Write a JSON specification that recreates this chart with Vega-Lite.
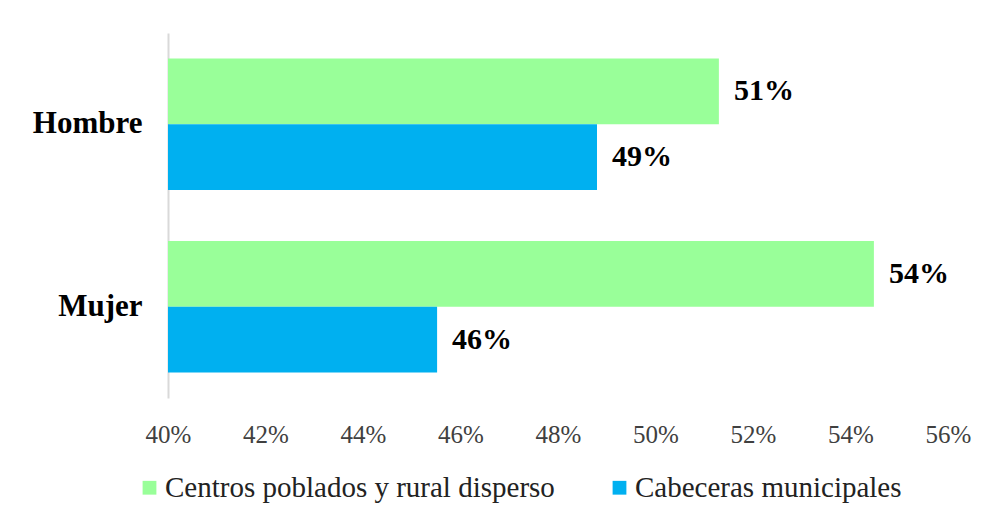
{
  "$schema": "https://vega.github.io/schema/vega-lite/v6.json",
  "width": 780,
  "height": 365,
  "autosize": {"type": "none"},
  "padding": {"left": 168, "top": 33, "right": 44, "bottom": 123},
  "background": "white",
  "config": {
    "view": {"stroke": null},
    "font": "Liberation Serif"
  },
  "data": {
    "values": [
      {"sexo": "Hombre", "zona": "Centros poblados y rural disperso", "valor": 0.513},
      {"sexo": "Hombre", "zona": "Cabeceras municipales", "valor": 0.488},
      {"sexo": "Mujer", "zona": "Centros poblados y rural disperso", "valor": 0.5448},
      {"sexo": "Mujer", "zona": "Cabeceras municipales", "valor": 0.4552}
    ]
  },
  "encoding": {
    "y": {
      "field": "sexo",
      "type": "nominal",
      "sort": ["Hombre", "Mujer"],
      "title": null,
      "scale": {"paddingInner": 0.28, "paddingOuter": 0.14},
      "axis": {
        "ticks": false,
        "domain": true,
        "domainColor": "#d9d9d9",
        "domainWidth": 2,
        "labelFont": "Liberation Serif",
        "labelFontWeight": "bold",
        "labelFontSize": 31,
        "labelColor": "#000000",
        "labelPadding": 26
      }
    },
    "yOffset": {
      "field": "zona",
      "type": "nominal",
      "sort": ["Centros poblados y rural disperso", "Cabeceras municipales"]
    }
  },
  "layer": [
    {
      "mark": {"type": "bar"},
      "encoding": {
        "x": {
          "field": "valor",
          "type": "quantitative",
          "title": null,
          "scale": {"domain": [0.4, 0.56], "zero": false, "nice": false},
          "axis": {
            "values": [0.4, 0.42, 0.44, 0.46, 0.48, 0.5, 0.52, 0.54, 0.56],
            "format": ".0%",
            "grid": false,
            "domain": false,
            "ticks": false,
            "labelFont": "Liberation Serif",
            "labelFontSize": 25,
            "labelColor": "#404040",
            "labelPadding": 24,
            "labelFlush": false
          }
        },
        "x2": {"datum": 0.4},
        "color": {
          "field": "zona",
          "type": "nominal",
          "sort": ["Centros poblados y rural disperso", "Cabeceras municipales"],
          "scale": {
            "domain": ["Centros poblados y rural disperso", "Cabeceras municipales"],
            "range": ["#99FF99", "#00B0F0"]
          },
          "legend": {
            "title": null,
            "orient": "none",
            "direction": "horizontal",
            "legendX": -33,
            "legendY": 440,
            "symbolType": "square",
            "symbolSize": 190,
            "symbolStrokeWidth": 0,
            "labelFont": "Liberation Serif",
            "labelFontSize": 29,
            "labelLimit": 600,
            "labelColor": "#222222",
            "labelOffset": 1,
            "columnPadding": 50,
            "padding": 0
          }
        }
      }
    },
    {
      "mark": {
        "type": "text",
        "align": "left",
        "baseline": "middle",
        "dx": 15,
        "font": "Liberation Serif",
        "fontWeight": "bold",
        "fontSize": 30,
        "color": "#000000"
      },
      "encoding": {
        "x": {"field": "valor", "type": "quantitative"},
        "text": {"field": "valor", "type": "quantitative", "format": ".0%"}
      }
    }
  ]
}
